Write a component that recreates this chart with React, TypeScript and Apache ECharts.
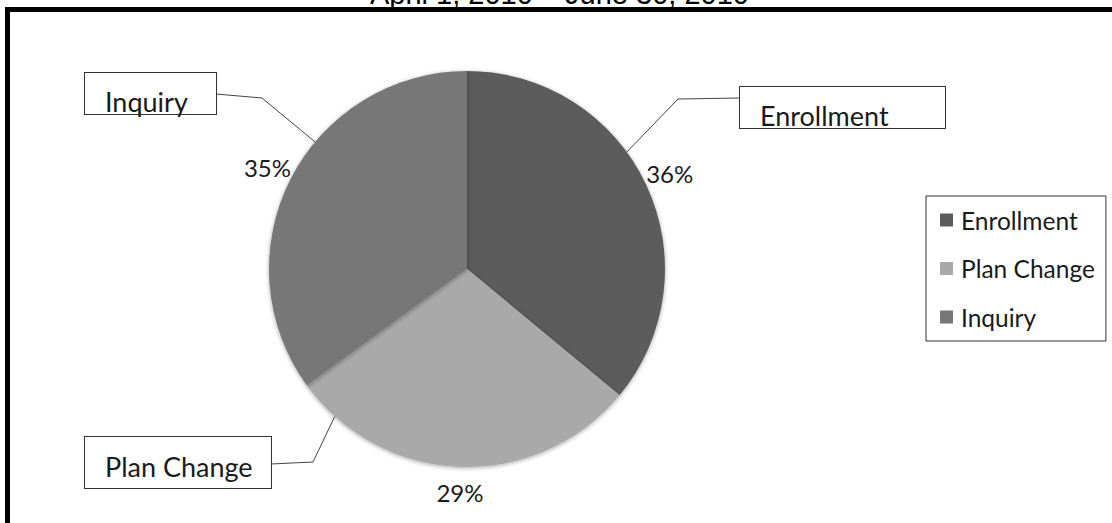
import React, { useEffect, useRef } from 'react';
import * as echarts from 'echarts';

const titleText = 'April 1, 2010 – June 30, 2010';
const categories = ['Enrollment', 'Plan Change', 'Inquiry'];
const shares = [36, 29, 35];

const sliceColors = ['#5b5b5b', '#a9a9a9', '#777777'];
const pieCenter = [467, 269];
const pieRadius = 198;
// name-box placement (top-left corner) and size
const boxLeft = [740, 85, 85];
const boxTop = [87, 437, 73];
const boxContentWidth = [185, 166, 111];
const boxPadding = [
  [15, 0, 0, 20],
  [16, 0, 9, 20],
  [15, 0, 0, 20],
];
// leader lines: angle on the pie rim (deg clockwise from 12 o'clock), elbow x, y where it meets the box
const leaderAngle = [53.8, 221.9, 309.9];
const leaderElbowX = [678, 313, 262];
const leaderBoxY = [98, 464, 94];
const leaderElbowY = [99, 462, 98];

export default function App() {
  const ref = useRef<HTMLDivElement>(null);
  useEffect(() => {
    const chart = echarts.init(ref.current!, null, { renderer: 'svg' });
    const font = 'Lato';
    const data = categories.map((name, i) => ({
      name,
      value: shares[i],
      itemStyle: { color: sliceColors[i] },
      label: { width: boxContentWidth[i], padding: boxPadding[i] },
    }));
    const boxOuterWidth = (i: number) => boxContentWidth[i] + boxPadding[i][1] + boxPadding[i][3];
    chart.setOption({
      animation: false,
      backgroundColor: '#fff',
      title: {
        text: titleText,
        left: 370,
        top: -21,
        padding: 0,
        textStyle: { fontFamily: 'Liberation Sans', fontSize: 29, fontWeight: 'normal', color: '#000' },
      },
      legend: {
        orient: 'vertical',
        left: 926,
        top: 196,
        padding: [11, 11, 11, 14],
        itemGap: 22.5,
        itemWidth: 13,
        itemHeight: 13,
        icon: 'rect',
        borderColor: '#333',
        borderWidth: 1,
        backgroundColor: '#fff',
        selectedMode: false,
        textStyle: { fontFamily: font, fontSize: 24.5, color: '#1a1a1a', lineHeight: 26, padding: [0, 0, 0, 3] },
        data: categories,
      },
      graphic: [
        {
          type: 'rect',
          silent: true,
          shape: { x: 7.5, y: 9.5, width: 1200, height: 600 },
          style: { fill: 'none', stroke: '#000', lineWidth: 5 },
        },
      ],
      series: [
        {
          type: 'pie',
          center: pieCenter,
          radius: pieRadius,
          startAngle: 90,
          clockwise: true,
          avoidLabelOverlap: false,
          silent: true,
          emphasis: { disabled: true },
          itemStyle: { shadowBlur: 4, shadowColor: 'rgba(0,0,0,0.35)', shadowOffsetY: 1 },
          data,
          label: {
            show: true,
            position: 'outside',
            formatter: '{b}',
            fontFamily: font,
            fontSize: 27,
            lineHeight: 26,
            color: '#1a1a1a',
            backgroundColor: '#fff',
            borderColor: '#333',
            borderWidth: 1,
          },
          labelLine: { show: true, length: 10, length2: 40, lineStyle: { color: '#444', width: 1 } },
          labelLayout: (p: any) => {
            const i = p.dataIndex;
            const a = (leaderAngle[i] * Math.PI) / 180;
            const rim = [pieCenter[0] + pieRadius * Math.sin(a), pieCenter[1] - pieRadius * Math.cos(a)];
            const boxOnRight = boxLeft[i] > pieCenter[0];
            const edgeX = boxOnRight ? boxLeft[i] : boxLeft[i] + boxOuterWidth(i);
            return {
              x: boxLeft[i],
              y: boxTop[i],
              align: 'left',
              verticalAlign: 'top',
              labelLinePoints: [rim, [leaderElbowX[i], leaderElbowY[i]], [edgeX, leaderBoxY[i]]],
            };
          },
        },
        {
          type: 'pie',
          center: pieCenter,
          radius: [pieRadius, 244],
          startAngle: 90,
          clockwise: true,
          silent: true,
          emphasis: { disabled: true },
          itemStyle: { color: 'rgba(0,0,0,0)' },
          data: categories.map((name, i) => ({ name, value: shares[i] })),
          label: {
            show: true,
            position: 'inside',
            formatter: '{d}%',
            fontFamily: font,
            fontSize: 24,
            color: '#1a1a1a',
          },
          labelLine: { show: false },
        },
      ],
    });
    return () => chart.dispose();
  }, []);
  return (
    <div
      ref={ref}
      style={{ position: 'absolute', left: 0, top: 0, width: 1112, height: 523 }}
    />
  );
}
